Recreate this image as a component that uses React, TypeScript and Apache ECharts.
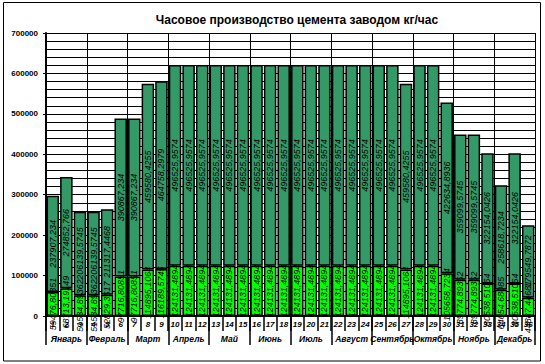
import React, { useEffect, useRef } from "react";
import * as echarts from "echarts";

const TITLE = "Часовое производство цемента заводом кг/час";

const categories = [
  "1", "2", "3", "4", "5", "6", "7", "8", "9", "10", "11", "12",
  "13", "14", "15", "16", "17", "18", "19", "20", "21", "22", "23", "24",
  "25", "26", "27", "28", "29", "30", "31", "32", "33", "34", "35", "36",
];

const months = [
  "Январь", "Февраль", "Март", "Апрель", "Май", "Июнь",
  "Июль", "Август", "Сентябрь", "Октябрь", "Ноябрь", "Декабрь",
];

const greenValues = [
  59476.80851, 68713.19149, 51534.89362, 51534.89362, 52829.3617, 97716.80851,
  97716.80851, 114895.1064, 116189.5745, 124131.4894, 124131.4894, 124131.4894,
  124131.4894, 124131.4894, 124131.4894, 124131.4894, 124131.4894, 124131.4894,
  124131.4894, 124131.4894, 124131.4894, 124131.4894, 124131.4894, 124131.4894,
  124131.4894, 124131.4894, 114895.1064, 124131.4894, 124131.4894, 105658.7234,
  89774.89362, 89774.89362, 80538.51064, 64654.68085, 80538.51064, 44887.44681,
];

const darkValues = [
  237907.234, 274852.766, 206139.5745, 206139.5745, 211317.4468, 390867.234,
  390867.234, 459580.4255, 464758.2979, 496525.9574, 496525.9574, 496525.9574,
  496525.9574, 496525.9574, 496525.9574, 496525.9574, 496525.9574, 496525.9574,
  496525.9574, 496525.9574, 496525.9574, 496525.9574, 496525.9574, 496525.9574,
  496525.9574, 496525.9574, 459580.4255, 496525.9574, 496525.9574, 422634.8936,
  359099.5745, 359099.5745, 322154.0426, 258618.7234, 322154.0426, 179549.7872,
];

const FONT = "'Liberation Sans', Arial, sans-serif";

const fmt = (p: any) => String(p.value).replace(".", ",");

export default function App() {
  const ref = useRef<HTMLDivElement>(null);
  useEffect(() => {
    document.body.style.margin = "0";
    const chart = echarts.init(ref.current!, null, { renderer: "svg" });
    const labelStyle = {
      show: true,
      position: "inside" as const,
      rotate: 90,
      formatter: fmt,
      color: "#000",
      fontSize: 9,
      fontStyle: "italic" as const,
      fontFamily: FONT,
    };
    chart.setOption({
      animation: false,
      backgroundColor: "#fff",
      title: {
        text: TITLE,
        left: 292,
        textAlign: "center",
        top: 9,
        textStyle: { fontSize: 12, fontWeight: "bold", color: "#000", fontFamily: FONT },
      },
      grid: { left: 46, right: 10, top: 33, bottom: 48, containLabel: false },
      xAxis: [
        {
          type: "category",
          data: categories,
          position: "bottom",
          offset: 0,
          axisLine: { show: true, lineStyle: { color: "#000", width: 2 } },
          axisTick: { show: true, interval: 0, length: 15, lineStyle: { color: "#000", width: 1.5 } },
          axisLabel: {
            interval: 0,
            margin: 4,
            fontSize: 8,
            fontWeight: "bold",
            fontStyle: "italic",
            color: "#000",
            fontFamily: FONT,
          },
          splitLine: { show: false },
        },
        {
          type: "category",
          data: months,
          position: "bottom",
          offset: 0,
          axisLine: { show: false },
          axisTick: { show: true, interval: 0, length: 29, lineStyle: { color: "#000", width: 1.5 } },
          axisLabel: {
            interval: 0,
            margin: 18,
            fontSize: 8.5,
            fontWeight: "bold",
            fontStyle: "italic",
            color: "#000",
            fontFamily: FONT,
          },
          splitLine: { show: true, interval: 0, lineStyle: { color: "#000", width: 1 } },
        },
      ],
      yAxis: {
        type: "value",
        min: 0,
        max: 700000,
        interval: 100000,
        axisLine: { show: true, lineStyle: { color: "#000", width: 2 } },
        axisTick: { show: true, length: 3, lineStyle: { color: "#000" } },
        axisLabel: {
          margin: 8,
          fontSize: 8,
          fontWeight: "bold",
          color: "#000",
          fontFamily: FONT,
          formatter: (v: number) => String(v),
        },
        splitLine: { show: true, lineStyle: { color: "#000", width: 1 } },
        minorTick: { show: false, splitNumber: 5 },
        minorSplitLine: { show: true, lineStyle: { color: "#000", width: 1 } },
      },
      graphic: [
        {
          type: "rect",
          shape: { x: 3.5, y: 2.5, width: 537, height: 358.5 },
          style: { fill: "none", stroke: "#000", lineWidth: 1 },
          silent: true,
        },
      ],
      series: [
        {
          type: "bar",
          name: "green",
          stack: "total",
          xAxisIndex: 0,
          data: greenValues,
          barCategoryGap: "8%",
          itemStyle: { color: "#00FF00", borderColor: "#000", borderWidth: 1.5 },
          label: labelStyle,
        },
        {
          type: "bar",
          name: "dark",
          stack: "total",
          xAxisIndex: 0,
          data: darkValues,
          barCategoryGap: "8%",
          itemStyle: { color: "#339966", borderColor: "#000", borderWidth: 1.5 },
          label: labelStyle,
        },
      ],
    });
    return () => chart.dispose();
  }, []);
  return <div ref={ref} style={{ width: 545, height: 364, position: "absolute", left: 0, top: 0 }} />;
}
